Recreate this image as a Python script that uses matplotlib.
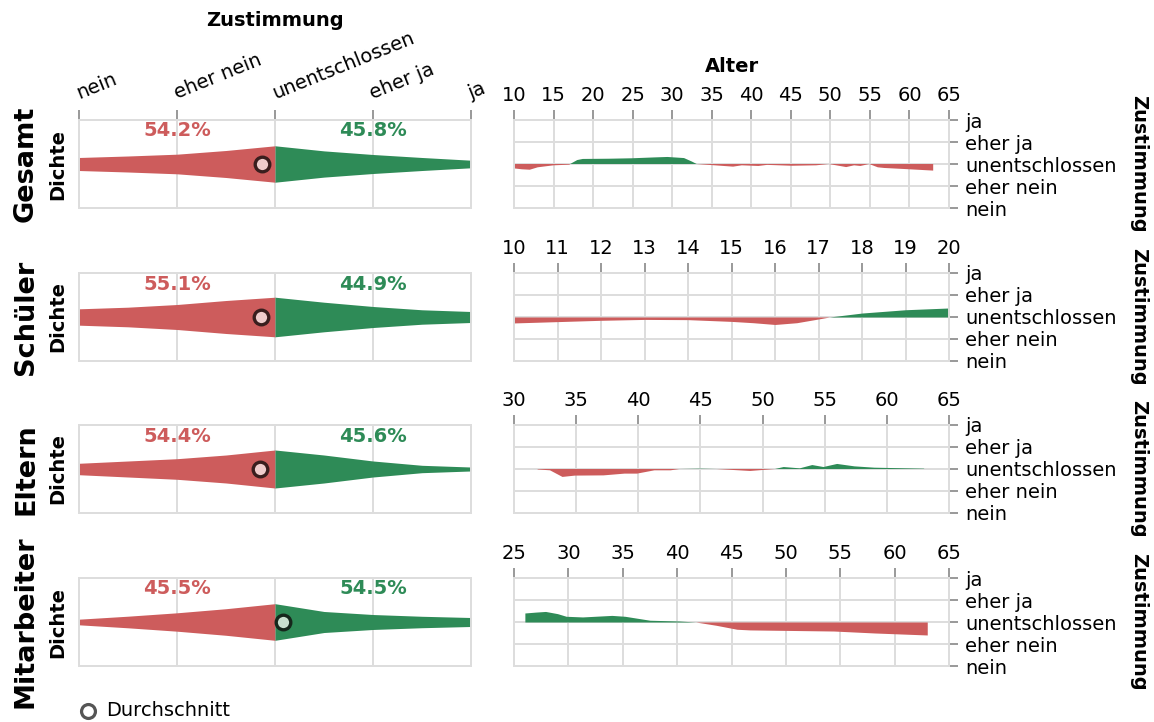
import matplotlib.pyplot as plt
import numpy as np
from matplotlib.lines import Line2D

plt.rcParams['font.family'] = 'DejaVu Sans'
plt.rcParams['font.size'] = 14

RED = '#cd5c5c'
GREEN = '#2e8b57'
GRID = '#dddddd'
TICK = '#888888'

levels = ['nein', 'eher nein', 'unentschlossen', 'eher ja', 'ja']
groups = ['Gesamt', 'Schüler', 'Eltern', 'Mitarbeiter']

# violin half widths (density) at nein .. ja, step 0.5
dens_pos = [0, 0.5, 1, 1.5, 2, 2.5, 3, 3.5, 4]
dens_gesamt = [0.148, 0.182, 0.223, 0.307, 0.414, 0.298, 0.216, 0.148, 0.086]
dens_schueler = [0.186, 0.223, 0.284, 0.375, 0.45, 0.336, 0.239, 0.164, 0.125]
dens_eltern = [0.13, 0.182, 0.234, 0.318, 0.432, 0.318, 0.182, 0.084, 0.045]
dens_mitarbeiter = [0.064, 0.132, 0.209, 0.302, 0.416, 0.239, 0.17, 0.13, 0.102]

pct_no = [54.2, 55.1, 54.4, 45.5]
pct_yes = [45.8, 44.9, 45.6, 54.5]
mean_score = [1.87, 1.86, 1.85, 2.08]

# mean agreement by age (0 = unentschlossen, -2 = nein, 2 = ja)
age_gesamt = [10, 11, 12, 13, 15, 17, 17.1, 18, 18.7, 22, 24.9, 27.8, 29.4, 31.5, 32.5,
              33.1, 35, 37.7, 38.8, 40.9, 42, 45.1, 48.2, 49.8, 52, 53, 53.8, 54.9, 56,
              56.8, 60, 63]
val_gesamt = [-0.2, -0.24, -0.26, -0.15, -0.06, -0.03, 0.0, 0.18, 0.23, 0.24, 0.26, 0.3,
              0.32, 0.27, 0.11, 0.0, -0.05, -0.12, -0.06, -0.09, -0.04, -0.08, -0.06, 0.0,
              -0.14, -0.06, -0.09, 0.0, -0.15, -0.18, -0.24, -0.3]

age_schueler = [10, 11, 12, 13, 14, 15, 15.5, 16, 16.5, 17, 17.25, 18, 19, 20]
val_schueler = [-0.27, -0.21, -0.15, -0.11, -0.12, -0.2, -0.26, -0.34, -0.26, -0.09, 0.0,
                0.18, 0.33, 0.41]

age_eltern = [31.9, 32.9, 33.9, 34.9, 37.2, 38.9, 39.9, 41.3, 42.6, 43.3, 45, 46.3, 49, 51,
              51.7, 53, 54, 54.9, 56, 57.4, 59, 63]
val_eltern = [-0.02, -0.06, -0.36, -0.3, -0.29, -0.21, -0.21, -0.06, -0.06, 0.0, 0.015, 0.0,
              -0.09, 0.0, 0.09, 0.03, 0.18, 0.09, 0.23, 0.12, 0.06, 0.015]

age_mitarbeiter = [26, 27, 27.9, 29, 29.8, 31.3, 34, 35.2, 37.5, 40.2, 41.7, 43.6, 45.5,
                   46.7, 54.4, 58.2, 63]
val_mitarbeiter = [0.41, 0.45, 0.48, 0.38, 0.26, 0.23, 0.3, 0.26, 0.08, 0.045, 0.0, -0.15,
                   -0.33, -0.36, -0.41, -0.5, -0.59]

age_lims = [(10, 65), (10, 20), (30, 65), (25, 65)]
age_steps = [5, 1, 5, 5]

densities = [dens_gesamt, dens_schueler, dens_eltern, dens_mitarbeiter]
ages = [age_gesamt, age_schueler, age_eltern, age_mitarbeiter]
vals = [val_gesamt, val_schueler, val_eltern, val_mitarbeiter]
point_face = ['#efcccc', '#efcccc', '#efcccc', '#c9e0cf']
point_edge = ['#3a1e1e', '#3a1e1e', '#3a1e1e', '#16271c']

W, H = 1154, 722
fig = plt.figure(figsize=(W / 100, H / 100), dpi=100)


def rect(x0, x1, top, h=88):
    return [x0 / W, 1 - (top + h) / H, (x1 - x0) / W, h / H]


def style(ax):
    for s in ax.spines.values():
        s.set_color(GRID)
        s.set_linewidth(1.4)
    ax.grid(True, color=GRID, lw=1.4)
    ax.set_axisbelow(True)


tops = [120, 273, 425, 578]
for i, top in enumerate(tops):
    # left: density
    ax = fig.add_axes(rect(79, 471, top))
    style(ax)
    d = np.array(densities[i])
    x = np.array(dens_pos)
    ax.fill_between(x[:5], -d[:5], d[:5], color=RED, lw=0)
    ax.fill_between(x[4:], -d[4:], d[4:], color=GREEN, lw=0)
    ax.plot(mean_score[i], 0, 'o', ms=10.5, mfc=point_face[i], mec=point_edge[i],
            mew=2.4, zorder=5)
    ax.text(1, 0.625, f'{pct_no[i]}%', color=RED, fontweight='bold', ha='center',
            va='baseline')
    ax.text(3, 0.625, f'{pct_yes[i]}%', color=GREEN, fontweight='bold', ha='center',
            va='baseline')
    ax.set_xlim(0, 4)
    ax.set_ylim(-1, 1)
    ax.set_xticks(range(5))
    ax.set_yticks([])
    ax.yaxis.grid(False)
    if i == 0:
        ax.xaxis.tick_top()
        ax.tick_params(axis='x', length=7, width=1.2, color=TICK, pad=8)
        ax.set_xticklabels(levels, rotation=22, ha='left', va='baseline',
                           rotation_mode='anchor')
    else:
        ax.tick_params(axis='x', bottom=False, labelbottom=False)
    fig.text(58 / W, 1 - (top + 44) / H, 'Dichte', rotation=90, fontweight='bold',
             ha='center', va='center')
    fig.text(26 / W, 1 - (top + 44) / H, groups[i], rotation=90, fontweight='bold',
             fontsize=19.5, ha='center', va='center')

    # right: agreement by age
    ax2 = fig.add_axes(rect(514, 949, top))
    style(ax2)
    a = np.array(ages[i])
    v = np.array(vals[i])
    ax2.fill_between(a, 0, v, where=v >= 0, color=GREEN, lw=0, interpolate=True)
    ax2.fill_between(a, 0, v, where=v <= 0, color=RED, lw=0, interpolate=True)
    lo, hi = age_lims[i]
    ax2.set_xlim(lo, hi)
    ax2.set_xticks(range(lo, hi + 1, age_steps[i]))
    ax2.set_ylim(-2, 2)
    ax2.set_yticks([-2, -1, 0, 1, 2])
    ax2.set_yticklabels(levels)
    ax2.xaxis.tick_top()
    ax2.yaxis.tick_right()
    ax2.tick_params(axis='x', length=7, width=1.2, color=TICK, pad=4)
    ax2.tick_params(axis='y', length=6.5, width=1.2, color=TICK, pad=5)
    fig.text(1139 / W, 1 - (top + 44) / H, 'Zustimmung', rotation=270,
             fontweight='bold', ha='center', va='center')

fig.text(275 / W, 1 - 26 / H, 'Zustimmung', fontweight='bold', ha='center',
         va='baseline')
fig.text(731.5 / W, 1 - 72 / H, 'Alter', fontweight='bold', ha='center', va='baseline')

fig.add_artist(Line2D([88 / W], [1 - 711 / H], transform=fig.transFigure, marker='o',
                      ms=10, mfc='white', mec='#555555', mew=2.3, ls=''))
fig.text(106 / W, 1 - 711 / H, 'Durchschnitt', ha='left', va='center')

fig.savefig('out.png', dpi=100)
